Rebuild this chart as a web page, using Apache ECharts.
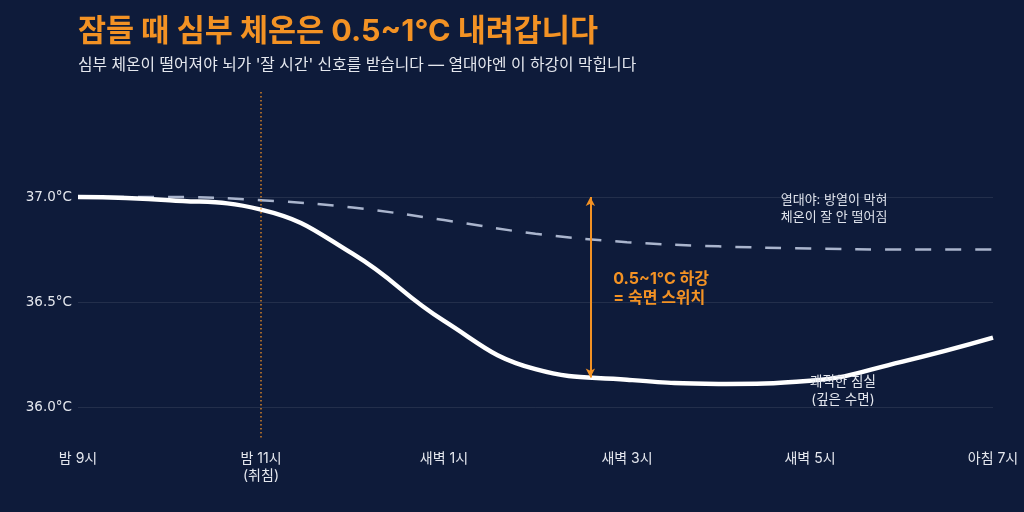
<!DOCTYPE html>
<html>
<head>
<meta charset="utf-8">
<script src="https://cdn.jsdelivr.net/npm/echarts@6/dist/echarts.min.js"></script>
<style>
  html, body { margin: 0; padding: 0; background: #0e1b3a; }
  #chart { width: 1024px; height: 512px; }
</style>
</head>
<body>
<div id="chart"></div>
<script>
// 시간축: 밤 9시부터 경과 시간(h)
var xLabels = ['밤 9시', '밤 11시\n(취침)', '새벽 1시', '새벽 3시', '새벽 5시', '아침 7시'];

// 쾌적한 침실 (실선)
var coolHours = [0, 1, 2, 3, 4, 5, 6, 7, 8, 9, 10];
var coolTemps = [37.0, 36.985, 36.94, 36.73, 36.41, 36.18, 36.13, 36.11, 36.125, 36.215, 36.33];

// 열대야 (점선)
var hotHours = [0, 1, 2, 3, 4, 5, 6, 7, 8, 9, 10];
var hotTemps = [37.0, 37.0, 36.985, 36.95, 36.89, 36.825, 36.785, 36.765, 36.755, 36.75, 36.75];

// 취침 시각, 하강 화살표
var bedHour = 2;
var arrowHour = 5.6;
var arrowFrom = 37.0;
var arrowTo = 36.14;

var ORANGE = '#f39224';
var FONT = 'Inter, "Noto Sans CJK KR", sans-serif';
var AXIS_FONT = '"DejaVu Sans", "Noto Sans CJK KR", sans-serif';

function pairs(xs, ys) {
    var out = [];
    for (var i = 0; i < xs.length; i++) {
        out.push([xs[i], ys[i]]);
    }
    return out;
}

var chart = echarts.init(document.getElementById('chart'));

var option = {
    backgroundColor: '#0e1b3a',
    animation: false,
    textStyle: { fontFamily: FONT },
    title: {
        left: 73,
        top: 12,
        text: '잠들 때 심부 체온은 0.5~1°C 내려갑니다',
        subtext: '심부 체온이 떨어져야 뇌가 \'잘 시간\' 신호를 받습니다 — 열대야엔 이 하강이 막힙니다',
        itemGap: 10,
        textStyle: { color: ORANGE, fontSize: 30.5, fontWeight: 'bold', fontFamily: FONT },
        subtextStyle: { color: '#e4e7ee', fontSize: 15.8, fontFamily: FONT }
    },
    grid: { left: 78, right: 31, top: 92, bottom: -1 },
    xAxis: {
        type: 'value',
        min: 0,
        max: 10,
        interval: 2,
        offset: -69,
        axisLine: { show: false },
        axisTick: { show: false },
        splitLine: { show: false },
        axisLabel: {
            color: '#e4e7ee',
            fontSize: 14,
            lineHeight: 17,
            margin: 7,
            verticalAlign: 'top',
            formatter: function (v) { return xLabels[Math.round(v / 2)]; }
        }
    },
    yAxis: {
        type: 'value',
        min: 35.5,
        max: 37.5,
        interval: 0.5,
        axisLine: { show: false },
        axisTick: { show: false },
        axisLabel: {
            color: '#e4e7ee',
            fontSize: 13.5,
            fontFamily: AXIS_FONT,
            margin: 6,
            showMinLabel: false,
            showMaxLabel: false,
            formatter: function (v) { return v.toFixed(1) + '°C'; }
        },
        splitLine: {
            showMinLine: false,
            showMaxLine: false,
            lineStyle: { color: 'rgba(255,255,255,0.09)', width: 1 }
        }
    },
    series: [
        {
            name: '열대야',
            type: 'line',
            data: pairs(hotHours, hotTemps),
            smooth: 0.4,
            showSymbol: false,
            clip: false,
            z: 2,
            lineStyle: { color: '#aab5cd', width: 2.5, type: [16, 14] },
            markLine: {
                silent: true,
                symbol: 'none',
                label: { show: false },
                lineStyle: { color: ORANGE, width: 1.5, type: [1.5, 2.5], opacity: 0.85 },
                data: [[{ coord: [bedHour, 37.5] }, { coord: [bedHour, 35.85] }]]
            },
            markPoint: {
                silent: true,
                symbol: 'circle',
                symbolSize: 0,
                data: [{
                    coord: [7.68, 36.945],
                    label: {
                        show: true,
                        position: 'right',
                        distance: 0,
                        align: 'left',
                        color: '#dfe3ec',
                        fontSize: 13,
                        lineHeight: 17,
                        formatter: '열대야: 방열이 막혀\n체온이 잘 안 떨어짐'
                    }
                }, {
                    coord: [5.85, 36.564],
                    label: {
                        show: true,
                        position: 'right',
                        distance: 0,
                        align: 'left',
                        color: ORANGE,
                        fontSize: 16,
                        fontWeight: 'bold',
                        lineHeight: 19,
                        formatter: '0.5~1°C 하강\n= 숙면 스위치'
                    }
                }]
            }
        },
        {
            name: '쾌적한 침실',
            type: 'line',
            data: pairs(coolHours, coolTemps),
            smooth: 0.45,
            showSymbol: false,
            clip: false,
            z: 4,
            lineStyle: { color: '#ffffff', width: 4.5 },
            markLine: {
                silent: true,
                symbol: ['arrow', 'arrow'],
                symbolSize: [7, 9],
                label: { show: false },
                lineStyle: { color: ORANGE, width: 2, type: 'solid' },
                data: [[{ coord: [arrowHour, arrowFrom] }, { coord: [arrowHour, arrowTo] }]]
            }
        },
        {
            name: '주석',
            type: 'line',
            data: [],
            z: 1,
            markPoint: {
                silent: true,
                symbol: 'circle',
                symbolSize: 0,
                data: [{
                    coord: [8.36, 36.076],
                    label: {
                        show: true,
                        position: 'inside',
                        color: '#e4e7ee',
                        fontSize: 13.5,
                        lineHeight: 18,
                        formatter: '쾌적한 침실\n(깊은 수면)'
                    }
                }]
            }
        }
    ]
};

chart.setOption(option);
</script>
</body>
</html>
